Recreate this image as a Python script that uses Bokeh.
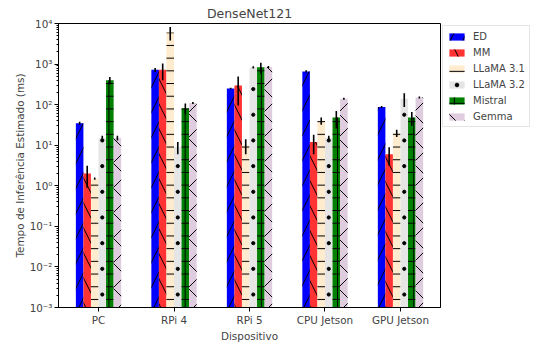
import numpy as np
from bokeh.plotting import figure
from bokeh.models import (Range1d, FixedTicker, Legend, LegendItem, ColumnDataSource)
from bokeh.embed import file_html
from bokeh.resources import INLINE

# ---- data ----
devices = ["PC", "RPi 4", "RPi 5", "CPU Jetson", "GPU Jetson"]
models = ["ED", "MM", "LLaMA 3.1", "LLaMA 3.2", "Mistral", "Gemma"]

ed_vals = [35, 720, 250, 660, 88]
ed_err = [3, 80, 10, 40, 5]
mm_vals = [2.0, 720, 295, 12, 6]
mm_err = [1.1, 320, 200, 6, 2.9]
llama31_vals = [1.5, 6000, 10, 40, 20]
llama31_err = [0.1, 2200, 4, 8, 4]
llama32_vals = [15, 9, 830, 15, 140]
llama32_err = [2, 3, 50, 2, 52]
mistral_vals = [400, 82, 830, 48, 48]
mistral_err = [80, 25, 250, 22, 18]
gemma_vals = [15, 110, 850, 140, 150]
gemma_err = [2, 6, 50, 8, 8]

series_vals = [ed_vals, mm_vals, llama31_vals, llama32_vals, mistral_vals, gemma_vals]
series_err = [ed_err, mm_err, llama31_err, llama32_err, mistral_err, gemma_err]

colors = ["#0000ff", "#ff3333", "#ffebcd", "#e5e5e5", "#008000", "#dfccdf"]
hatches = ["/", "\\", "-", None, "+", "x"]
hatch_scales = [25, 25, 12.7, 12, 12.7, 25]

y_ticks = [1e-3, 1e-2, 1e-1, 1e0, 1e1, 1e2, 1e3, 1e4]
y_tick_labels = ["10⁻³", "10⁻²", "10⁻¹", "10⁰", "10¹", "10²", "10³", "10⁴"]

FONT = "DejaVu Sans"

p = figure(frame_width=382, frame_height=284, y_axis_type="log",
           x_range=Range1d(-0.53, 4.53), y_range=Range1d(1e-3, 1e4),
           output_backend="svg", toolbar_location=None,
           min_border_left=58, min_border_right=0, min_border_top=20,
           min_border_bottom=30, title="DenseNet121")

p.title.align = "center"
p.title.text_font = FONT
p.title.text_font_size = "12.5px"
p.title.text_font_style = "normal"
p.title.standoff = 6
p.title.offset = 0

p.xgrid.visible = False
p.ygrid.visible = False
p.outline_line_color = "black"
p.outline_line_width = 1

width = 0.1
n = len(models)
base_x = np.arange(len(devices))
legend_items = []
# dot rows for the "." pattern: spacing in decades (matches screen spacing)
dot_step = 0.633
dot_phase = 0.485
for k in range(n):
    offs = (k - (n - 1) / 2) * width
    vals = np.array(series_vals[k], dtype=float)
    errs = np.array(series_err[k], dtype=float)
    src = ColumnDataSource(dict(x=base_x + offs, top=vals,
                                lo=vals - errs, hi=vals + errs))
    kw = {}
    if hatches[k] is not None:
        kw = dict(hatch_pattern=hatches[k], hatch_color="black",
                  hatch_weight=1, hatch_scale=hatch_scales[k])
    r = p.vbar(x="x", top="top", bottom=1e-5, width=width, source=src,
               fill_color=colors[k], line_color=None, **kw)
    rends = [r]
    if hatches[k] is None:
        dx, dy = [], []
        for xi, v in zip(base_x + offs, vals):
            lv = np.log10(v)
            j0 = int(np.floor((-3 - dot_phase) / dot_step))
            for j in range(j0, 20):
                ly = dot_phase + j * dot_step
                if ly <= -3:
                    continue
                if ly >= lv - 0.05:
                    break
                dx.append(xi)
                dy.append(10 ** ly)
        d = p.scatter(dx, dy, size=3.2, color="black", marker="circle")
        rends.append(d)
    p.segment(x0="x", y0="lo", x1="x", y1="hi", source=src,
              line_color="black", line_width=1.6)
    legend_items.append(LegendItem(label=models[k], renderers=rends))

legend = Legend(items=legend_items, location="top_left")
legend.label_text_font = FONT
legend.label_text_font_size = "10px"
legend.glyph_width = 19
legend.glyph_height = 9
legend.label_height = 12
legend.label_standoff = 7
legend.spacing = 4
legend.padding = 4
legend.margin = 2
legend.border_line_color = "#cccccc"
legend.background_fill_alpha = 1
p.add_layout(legend, "right")

# axes
p.xaxis.ticker = FixedTicker(ticks=list(range(len(devices))))
p.xaxis.major_label_overrides = {i: d for i, d in enumerate(devices)}
minor = [m * 10.0 ** e for e in range(-3, 4) for m in range(2, 10)]
p.yaxis.ticker = FixedTicker(ticks=y_ticks, minor_ticks=minor)
p.yaxis.major_label_overrides = {t: l for t, l in zip(y_ticks, y_tick_labels)}

for ax in (p.xaxis[0], p.yaxis[0]):
    ax.major_label_text_font = FONT
    ax.major_label_text_font_size = "10.4px"
    ax.axis_label_text_font = FONT
    ax.axis_label_text_font_size = "10.4px"
    ax.axis_label_text_font_style = "normal"
    ax.axis_line_color = "black"
    ax.major_tick_line_color = "black"
    ax.minor_tick_line_color = "black"
    ax.major_tick_out = 4
    ax.major_tick_in = 0
    ax.minor_tick_out = 2
    ax.minor_tick_in = 0
    ax.major_label_standoff = 2
    ax.axis_label_standoff = 1
p.xaxis.minor_tick_line_color = None
p.xaxis.axis_label = "Dispositivo"
p.yaxis.axis_label = "Tempo de Inferência Estimado (ms)"

open("out.html", "w").write(file_html(p, INLINE))
